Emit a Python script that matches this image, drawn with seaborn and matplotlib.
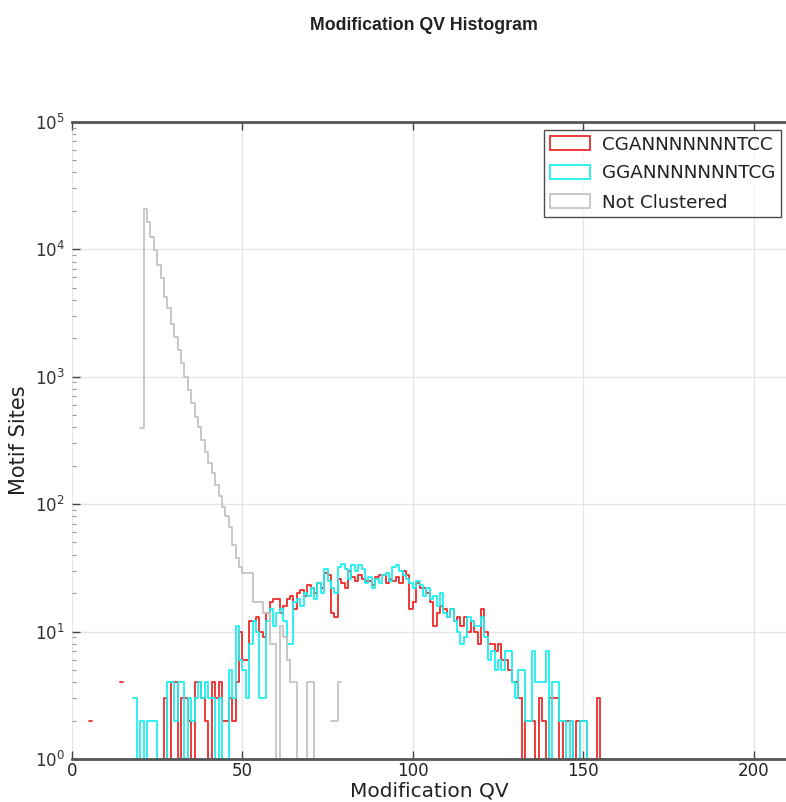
import numpy as np
import matplotlib
matplotlib.use("Agg")
import matplotlib.pyplot as plt
from matplotlib.patches import Patch
from matplotlib.ticker import LogLocator, NullFormatter
import seaborn as sns

TITLE = "Modification QV Histogram"
X_LABEL = "Modification QV"
Y_LABEL = "Motif Sites"
SERIES_NAMES = ["CGANNNNNNNTCC", "GGANNNNNNNTCG", "Not Clustered"]
SERIES_COLORS = ["#ee2a2a", "#1ef0f0", "#c4c4c4"]
X_TICKS = [0, 50, 100, 150, 200]

# counts per QV bin (width 1), starting at the given QV
RED_START = 5
RED_COUNTS = [2, 0, 0, 0, 0, 0, 0, 0, 0, 4, 0, 0, 0, 0, 0, 0, 0, 0, 0, 0, 0,
              1, 3, 1, 4, 4, 1, 3, 3, 2, 1,
              4, 4, 3, 2, 1, 4, 3, 4, 2, 2,
              3, 2, 4, 10, 6, 6, 12, 12, 13, 10,
              9, 14, 17, 18, 18, 14, 16, 18, 19, 15,
              20, 21, 19, 23, 22, 20, 24, 22, 29, 28,
              14, 13, 26, 24, 22, 30, 27, 25, 28, 26,
              25, 25, 23, 27, 28, 28, 24, 26, 25, 27,
              24, 30, 28, 15, 17, 24, 22, 22, 20, 17,
              11, 14, 16, 15, 13, 15, 12, 13, 11, 13,
              10, 12, 10, 8, 15, 10, 8, 8, 7, 8,
              6, 6, 5, 4, 4, 3, 1, 2, 2, 2,
              1, 3, 2, 1, 3, 3, 3, 1, 2, 2,
              2, 1, 2, 2, 2, 1, 1, 1, 3, 1]

CYAN_START = 18
CYAN_COUNTS = [3, 1, 2, 1, 2, 2, 2, 1, 1, 1,
               4, 4, 2, 4, 4, 1, 3, 2, 3, 4,
               3, 4, 3, 3, 1, 3, 1, 1, 5, 3,
               11, 6, 5, 3, 8, 12, 10, 3, 3, 12,
               15, 11, 14, 15, 12, 8, 8, 17, 18, 16,
               20, 19, 22, 18, 24, 20, 31, 25, 22, 20,
               32, 34, 31, 26, 33, 30, 33, 31, 24, 27,
               22, 26, 24, 28, 29, 25, 32, 33, 30, 28,
               26, 24, 22, 25, 23, 19, 22, 18, 19, 16,
               20, 14, 13, 15, 12, 10, 8, 9, 13, 12,
               11, 11, 13, 9, 6, 7, 5, 6, 5, 7,
               7, 4, 3, 5, 5, 2, 2, 7, 4, 4,
               4, 7, 1, 4, 4, 2, 2, 1, 2, 1,
               1, 2, 2, 1]

GRAY_START = 20
GRAY_COUNTS = [395, 20800, 16400, 12500, 9800, 7500, 5900, 4230, 3430, 2610,
               2050, 1610, 1270, 1000, 780, 620, 480, 400, 320, 255,
               210, 175, 140, 115, 95, 80, 66, 48, 38, 32,
               29, 29, 29, 17, 17, 17, 14, 14, 8, 8,
               1, 11, 9, 6, 4, 4, 1, 1, 1, 4,
               4, 1, 0, 0, 0, 0, 2, 2, 4]

sns.set_theme(style="white")
plt.rcParams['font.family'] = ['DejaVu Sans']

fig = plt.figure(figsize=(7.86, 8.02), dpi=100)
ax = fig.add_axes([72 / 786, 43 / 802, 715.6 / 786, 637.3 / 802])
ax.set_yscale('log', nonpositive='mask')

series = [(RED_START, RED_COUNTS), (CYAN_START, CYAN_COUNTS), (GRAY_START, GRAY_COUNTS)]
for (start, counts), color in zip(series, SERIES_COLORS):
    counts = np.asarray(counts, dtype=float)
    edges = np.arange(start, start + len(counts) + 1)
    centers = edges[:-1] + 0.5
    sns.histplot(x=centers, weights=counts, bins=[float(e) for e in edges],
                 element="step", fill=False, color=color, linewidth=1.3, ax=ax)

ax.set_xlim(0, 210)
ax.set_ylim(1, 1e5)
ax.set_xticks(X_TICKS)
ax.yaxis.set_major_locator(LogLocator(base=10, numticks=10))
ax.yaxis.set_minor_locator(LogLocator(base=10, subs=np.arange(2, 10), numticks=20))
ax.yaxis.set_minor_formatter(NullFormatter())

ax.grid(True, which='major', color='#e6e6e6', linewidth=1.0)
ax.set_axisbelow(True)
ax.tick_params(axis='both', which='major', direction='in', length=6, width=1,
               colors='#444444', labelsize=12, bottom=True, top=True, left=True, right=False)
ax.tick_params(axis='x', which='major', pad=2.5, labelcolor='#222222')
ax.tick_params(axis='y', which='major', pad=5, labelcolor='#333333')
ax.tick_params(axis='y', which='minor', direction='in', length=3, width=0.8,
               colors='#999999', left=True, right=False)

for side in ['top', 'bottom']:
    ax.spines[side].set_color('#555555')
    ax.spines[side].set_linewidth(2)
ax.spines['left'].set_visible(False)
ax.spines['right'].set_visible(False)

ax.set_xlabel(X_LABEL, fontsize=14.5, color='#222222', labelpad=0.5)
ax.set_ylabel(Y_LABEL, fontsize=15, color='#222222', labelpad=4)

handles = [Patch(facecolor='white', edgecolor=c, linewidth=1.3, label=n)
           for n, c in zip(SERIES_NAMES, SERIES_COLORS)]
leg = ax.legend(handles=handles, loc='upper right',
                bbox_to_anchor=(781 / 786, 1 - 130 / 802), bbox_transform=fig.transFigure,
                borderaxespad=0, fontsize=13.2, frameon=True, fancybox=False,
                handlelength=2.2, handleheight=0.8, handletextpad=0.65,
                labelspacing=0.6, borderpad=0.3)
leg.get_frame().set_edgecolor('#222222')
leg.get_frame().set_linewidth(1.0)
for t in leg.get_texts():
    t.set_color('#222222')

fig.text(424 / 786, 1 - 26 / 802, TITLE, ha='center', va='center', fontsize=12.8,
         fontweight='bold', color='#222222', family=['Liberation Sans', 'DejaVu Sans'])

fig.savefig("out.png", dpi=100)
